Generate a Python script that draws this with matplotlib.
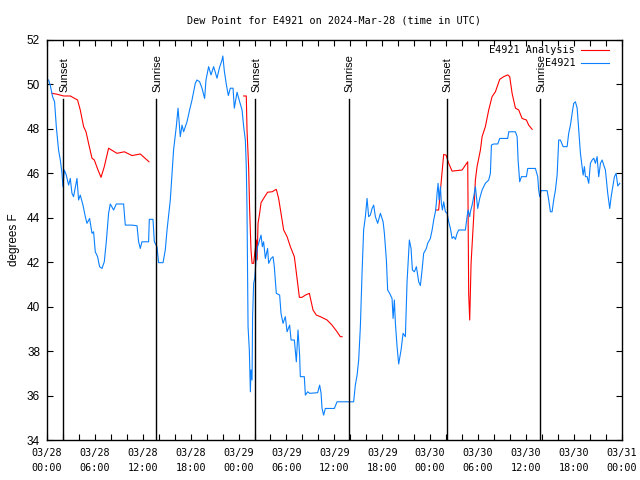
import matplotlib
matplotlib.use("Agg")
import matplotlib.pyplot as plt
import matplotlib.transforms as mtransforms
import numpy as np

# hours since 2024-03-28 00:00 UTC
obs_hours = [0.20, 0.41, 0.70, 0.95, 1.17, 1.45, 1.67, 1.88, 2.00, 2.17, 2.42, 2.71, 2.92, 3.13, 3.33,
             3.76, 3.96, 4.17, 4.51, 4.80, 5.01, 5.34, 5.64, 5.84, 6.05, 6.34, 6.59, 6.89, 7.18, 7.43,
             7.72, 7.93, 8.35, 8.68, 9.60, 9.81, 10.65, 11.28, 11.48, 11.69, 11.90, 12.73, 12.82, 13.28,
             13.45, 13.78, 13.98, 14.54, 14.82, 15.04, 15.45, 15.86, 16.20, 16.42, 16.70, 16.92, 17.12,
             17.54, 17.87, 18.17, 18.58, 18.80, 19.12, 19.42, 19.75, 19.92, 20.25, 20.55, 20.88, 21.30,
             21.59, 21.93, 22.03, 22.22, 22.47, 22.72, 22.97, 23.31, 23.47, 23.81, 24.14, 24.44, 24.64,
             24.85, 24.97, 25.06, 25.19, 25.35, 25.48, 25.56, 25.69, 25.76, 25.89, 26.02, 26.23, 26.39,
             26.64, 26.82, 26.98, 27.14, 27.36, 27.64, 27.77, 28.07, 28.32, 28.48, 28.73, 29.15, 29.32,
             29.57, 29.86, 30.08, 30.40, 30.58, 30.99, 31.24, 31.45, 31.65, 31.74, 32.24, 32.37, 32.66,
             32.91, 33.91, 34.16, 34.34, 34.46, 34.66, 34.87, 36.00, 36.34, 38.42, 38.63, 38.85, 39.05,
             39.26, 39.47, 39.67, 39.89, 40.10, 40.30, 40.51, 40.73, 40.93, 41.14, 41.43, 41.77, 42.11,
             42.27, 42.52, 42.68, 42.93, 43.23, 43.36, 43.52, 43.65, 43.86, 44.06, 44.36, 44.61, 44.90,
             45.11, 45.40, 45.61, 45.78, 46.03, 46.28, 46.57, 46.78, 46.99, 47.19, 47.53, 47.69, 48.03,
             48.25, 48.45, 48.66, 48.78, 48.87, 49.00, 49.12, 49.29, 49.41, 49.54, 49.70, 49.91, 50.13,
             50.33, 50.54, 50.75, 50.95, 51.17, 51.38, 51.58, 52.42, 52.63, 52.76, 52.96, 53.05, 53.26,
             53.46, 53.67, 53.80, 53.96, 54.21, 54.51, 54.92, 55.34, 55.55, 55.68, 55.96, 56.47, 56.72,
             57.72, 57.85, 58.68, 58.90, 59.02, 59.22, 59.44, 60.06, 60.23, 61.19, 61.48, 61.60, 61.73,
             61.90, 62.66, 62.86, 63.07, 63.28, 63.48, 63.70, 63.91, 64.11, 64.32, 64.66, 65.16, 65.36,
             65.58, 65.79, 65.99, 66.20, 66.42, 66.62, 66.83, 67.04, 67.17, 67.33, 67.46, 67.67, 67.87,
             68.08, 68.30, 68.50, 68.71, 68.92, 69.12, 69.34, 69.55, 69.75, 69.96, 70.25, 70.50, 70.68,
             70.88, 71.09, 71.30, 71.51, 71.76]
obs_dewpt = [50.2, 49.97, 49.45, 49.22, 48.1, 47.05, 46.6, 46.0, 45.4, 46.15, 45.92, 45.47, 45.77, 45.1, 44.95,
             45.77, 44.8, 45.02, 44.57, 44.05, 43.75, 43.97, 43.3, 43.37, 42.47, 42.25, 41.8, 41.72, 42.02, 42.92,
             44.2, 44.62, 44.35, 44.62, 44.62, 43.67, 43.67, 43.64, 42.92, 42.62, 42.92, 42.92, 43.93, 43.93,
             42.92, 42.7, 41.98, 41.98, 42.55, 43.45, 44.8, 47.05, 48.1, 48.93, 47.65, 48.17, 47.87,
             48.32, 48.85, 49.3, 50.05, 50.2, 50.12, 49.83, 49.37, 50.2, 50.8, 50.43, 50.8, 50.28,
             50.73, 51.1, 51.28, 50.6, 50.0, 49.5, 49.83, 49.83, 48.93, 49.65, 49.22, 48.85, 48.1,
             47.5, 46.3, 44.35, 39.1, 38.05, 36.17, 37.15, 36.7, 39.55, 41.05, 41.27, 42.25, 42.7,
             43.0, 43.22, 42.7, 42.92, 42.17, 42.62, 41.95, 42.17, 42.25, 41.8, 40.6, 40.52, 39.7,
             39.25, 39.55, 38.87, 39.17, 38.5, 38.5, 37.52, 38.95, 37.82, 36.85, 36.85, 36.02, 36.17,
             36.1, 36.13, 36.47, 36.1, 35.42, 35.12, 35.42, 35.42, 35.72, 35.72, 36.47, 36.92, 37.6,
             39.1, 41.5, 43.45, 44.05, 44.87, 44.05, 44.12, 44.42, 44.57, 44.05, 43.75, 44.2, 43.82,
             43.3, 42.1, 40.75, 40.6, 40.37, 39.47, 40.3, 39.25, 38.2, 37.42, 38.05, 38.8, 38.65,
             41.12, 43.0, 42.62, 41.65, 41.57, 41.8, 41.12, 40.95, 41.65, 42.4, 42.62, 42.85, 43.07,
             43.45, 43.9, 44.27, 44.65, 45.1, 45.55, 44.8, 45.4, 44.65, 44.35, 44.72, 44.27, 44.2,
             43.82, 43.52, 43.07, 43.15, 43.03, 43.3, 43.45, 43.45, 44.05, 44.35, 44.05, 44.27, 44.57,
             44.95, 45.4, 44.95, 44.42, 44.87, 45.25, 45.55, 45.7, 46.0, 47.27, 47.32, 47.32, 47.57,
             47.57, 47.87, 47.87, 47.65, 46.6, 45.62, 45.85, 45.85, 46.22, 46.22, 45.85, 45.25, 44.95,
             45.22, 45.22, 44.8, 44.27, 44.27, 44.8, 45.25, 45.92, 47.5, 47.5, 47.2, 47.2, 47.8,
             48.17, 48.7, 49.15, 49.22, 48.93, 47.95, 46.9, 46.3, 45.92, 46.3, 45.85, 45.85, 45.55,
             46.45, 46.6, 46.68, 46.45, 46.75, 45.85, 46.45, 46.6, 46.37, 46.15, 45.1, 44.42, 44.95,
             45.4, 45.85, 46.0, 45.43, 45.55]

# analysis runs (three separate pieces)
ana1_hours = [0.63, 1.25, 2.08, 2.92, 3.83, 4.17, 4.59, 4.89, 5.21, 5.64, 5.93, 6.34, 6.77, 7.18, 7.72,
              8.77, 9.69, 10.65, 11.69, 12.78]
ana1_dewpt = [49.6, 49.56, 49.48, 49.48, 49.3, 48.85, 48.1, 47.87, 47.35, 46.68, 46.6, 46.2, 45.82, 46.3, 47.13,
              46.9, 46.97, 46.8, 46.87, 46.52]
ana2_hours = [24.64, 24.97, 25.06, 25.26, 25.39, 25.56, 25.69, 25.89, 25.98, 26.23, 26.32, 26.44, 26.64,
              26.82, 27.14, 27.64, 28.20, 28.73, 29.02, 29.32, 29.65, 30.08, 30.49, 30.99, 31.33, 31.62,
              31.95, 32.37, 32.87, 33.33, 33.75, 34.25, 35.09, 35.71, 36.34, 36.75, 36.97]
ana2_dewpt = [49.48, 49.48, 47.95, 46.3, 44.35, 42.55, 41.95, 41.95, 42.25, 43.0, 42.1, 43.75, 44.2,
              44.68, 44.87, 45.15, 45.17, 45.28, 44.87, 44.2, 43.45, 43.15, 42.7, 42.25, 41.27, 40.42,
              40.42, 40.52, 40.6, 39.85, 39.62, 39.55, 39.4, 39.17, 38.87, 38.65, 38.65]
ana3_hours = [48.78, 49.07, 49.37, 49.70, 50.00, 50.33, 50.75, 52.01, 52.71, 52.83, 52.96, 53.13, 53.46,
              53.67, 53.88, 54.30, 54.51, 54.92, 55.34, 55.76, 56.18, 56.72, 57.22, 57.72, 57.97, 58.27,
              58.69, 59.10, 59.52, 60.06, 60.35, 60.78]
ana3_dewpt = [44.35, 44.35, 45.55, 46.85, 46.82, 46.45, 46.1, 46.15, 46.52, 40.6, 39.4, 41.95, 44.05,
              45.7, 46.3, 47.05, 47.65, 48.1, 48.85, 49.45, 49.67, 50.23, 50.35, 50.43, 50.35, 49.6,
              48.93, 48.85, 48.47, 48.4, 48.17, 47.98]

sun_hours = [2.03, 13.72, 26.07, 37.8, 50.08, 61.75]
sun_labels = ["Sunset", "Sunrise", "Sunset", "Sunrise", "Sunset", "Sunrise"]

xtick_hours = list(range(0, 73, 6))
xtick_labels = ["03/28\n00:00", "03/28\n06:00", "03/28\n12:00", "03/28\n18:00",
                "03/29\n00:00", "03/29\n06:00", "03/29\n12:00", "03/29\n18:00",
                "03/30\n00:00", "03/30\n06:00", "03/30\n12:00", "03/30\n18:00",
                "03/31\n00:00"]

mono = "DejaVu Sans Mono"
sans = "Liberation Sans"
red = "#ff0000"
blue = "#0a80ff"

fig = plt.figure(figsize=(6.4, 4.8), dpi=100)
ax = fig.add_axes([0.0734, 0.0833, 0.898, 0.8334])

# analysis pieces, drawn separately so gaps stay
ax.plot(ana1_hours, ana1_dewpt, color=red, lw=0.8)
ax.plot(ana2_hours, ana2_dewpt, color=red, lw=0.8)
ax.plot(ana3_hours, ana3_dewpt, color=red, lw=0.8)
ax.plot(obs_hours, obs_dewpt, color=blue, lw=0.8)

trans = mtransforms.blended_transform_factory(ax.transData, ax.transAxes)
for h, lab in zip(sun_hours, sun_labels):
    ax.plot([h, h], [0, 0.852], color="black", lw=1.0, transform=trans)
    ax.text(h + 0.15, 0.87, lab, rotation=90, ha="center", va="bottom",
            transform=trans, fontsize=8, family=sans)

# legend gnuplot style (right aligned text)
ax.text(0.919, 0.975, "E4921 Analysis", ha="right", va="center", transform=ax.transAxes,
        fontsize=7.3, family=mono)
ax.text(0.919, 0.943, "E4921", ha="right", va="center", transform=ax.transAxes,
        fontsize=7.3, family=mono)
ax.plot([0.93, 0.978], [0.975, 0.975], color=red, lw=0.8, transform=ax.transAxes)
ax.plot([0.93, 0.978], [0.943, 0.943], color=blue, lw=0.8, transform=ax.transAxes)

ax.set_xlim(0, 72)
ax.set_ylim(34, 52)
ax.set_xticks(xtick_hours)
ax.set_xticklabels(xtick_labels, family=mono, fontsize=7.3)
for t in ax.get_xticklabels():
    t.set_linespacing(1.55)
ax.set_xticks(np.arange(0, 73, 2), minor=True)
ax.set_yticks(np.arange(34, 53, 2))
ax.set_yticklabels([str(v) for v in range(34, 53, 2)], family=sans, fontsize=8.5)
ax.tick_params(axis="both", which="both", direction="in", length=4, width=0.8,
               top=True, right=True)
ax.tick_params(axis="x", which="major", pad=6)
ax.tick_params(axis="y", which="major", pad=5)
for s in ax.spines.values():
    s.set_linewidth(1.0)

ax.set_ylabel("degrees F", family=sans, fontsize=8.5, labelpad=5)
ax.set_title("Dew Point for E4921 on 2024-Mar-28 (time in UTC)", family=mono, fontsize=7.3, pad=12)

fig.savefig("out.png", dpi=100)
